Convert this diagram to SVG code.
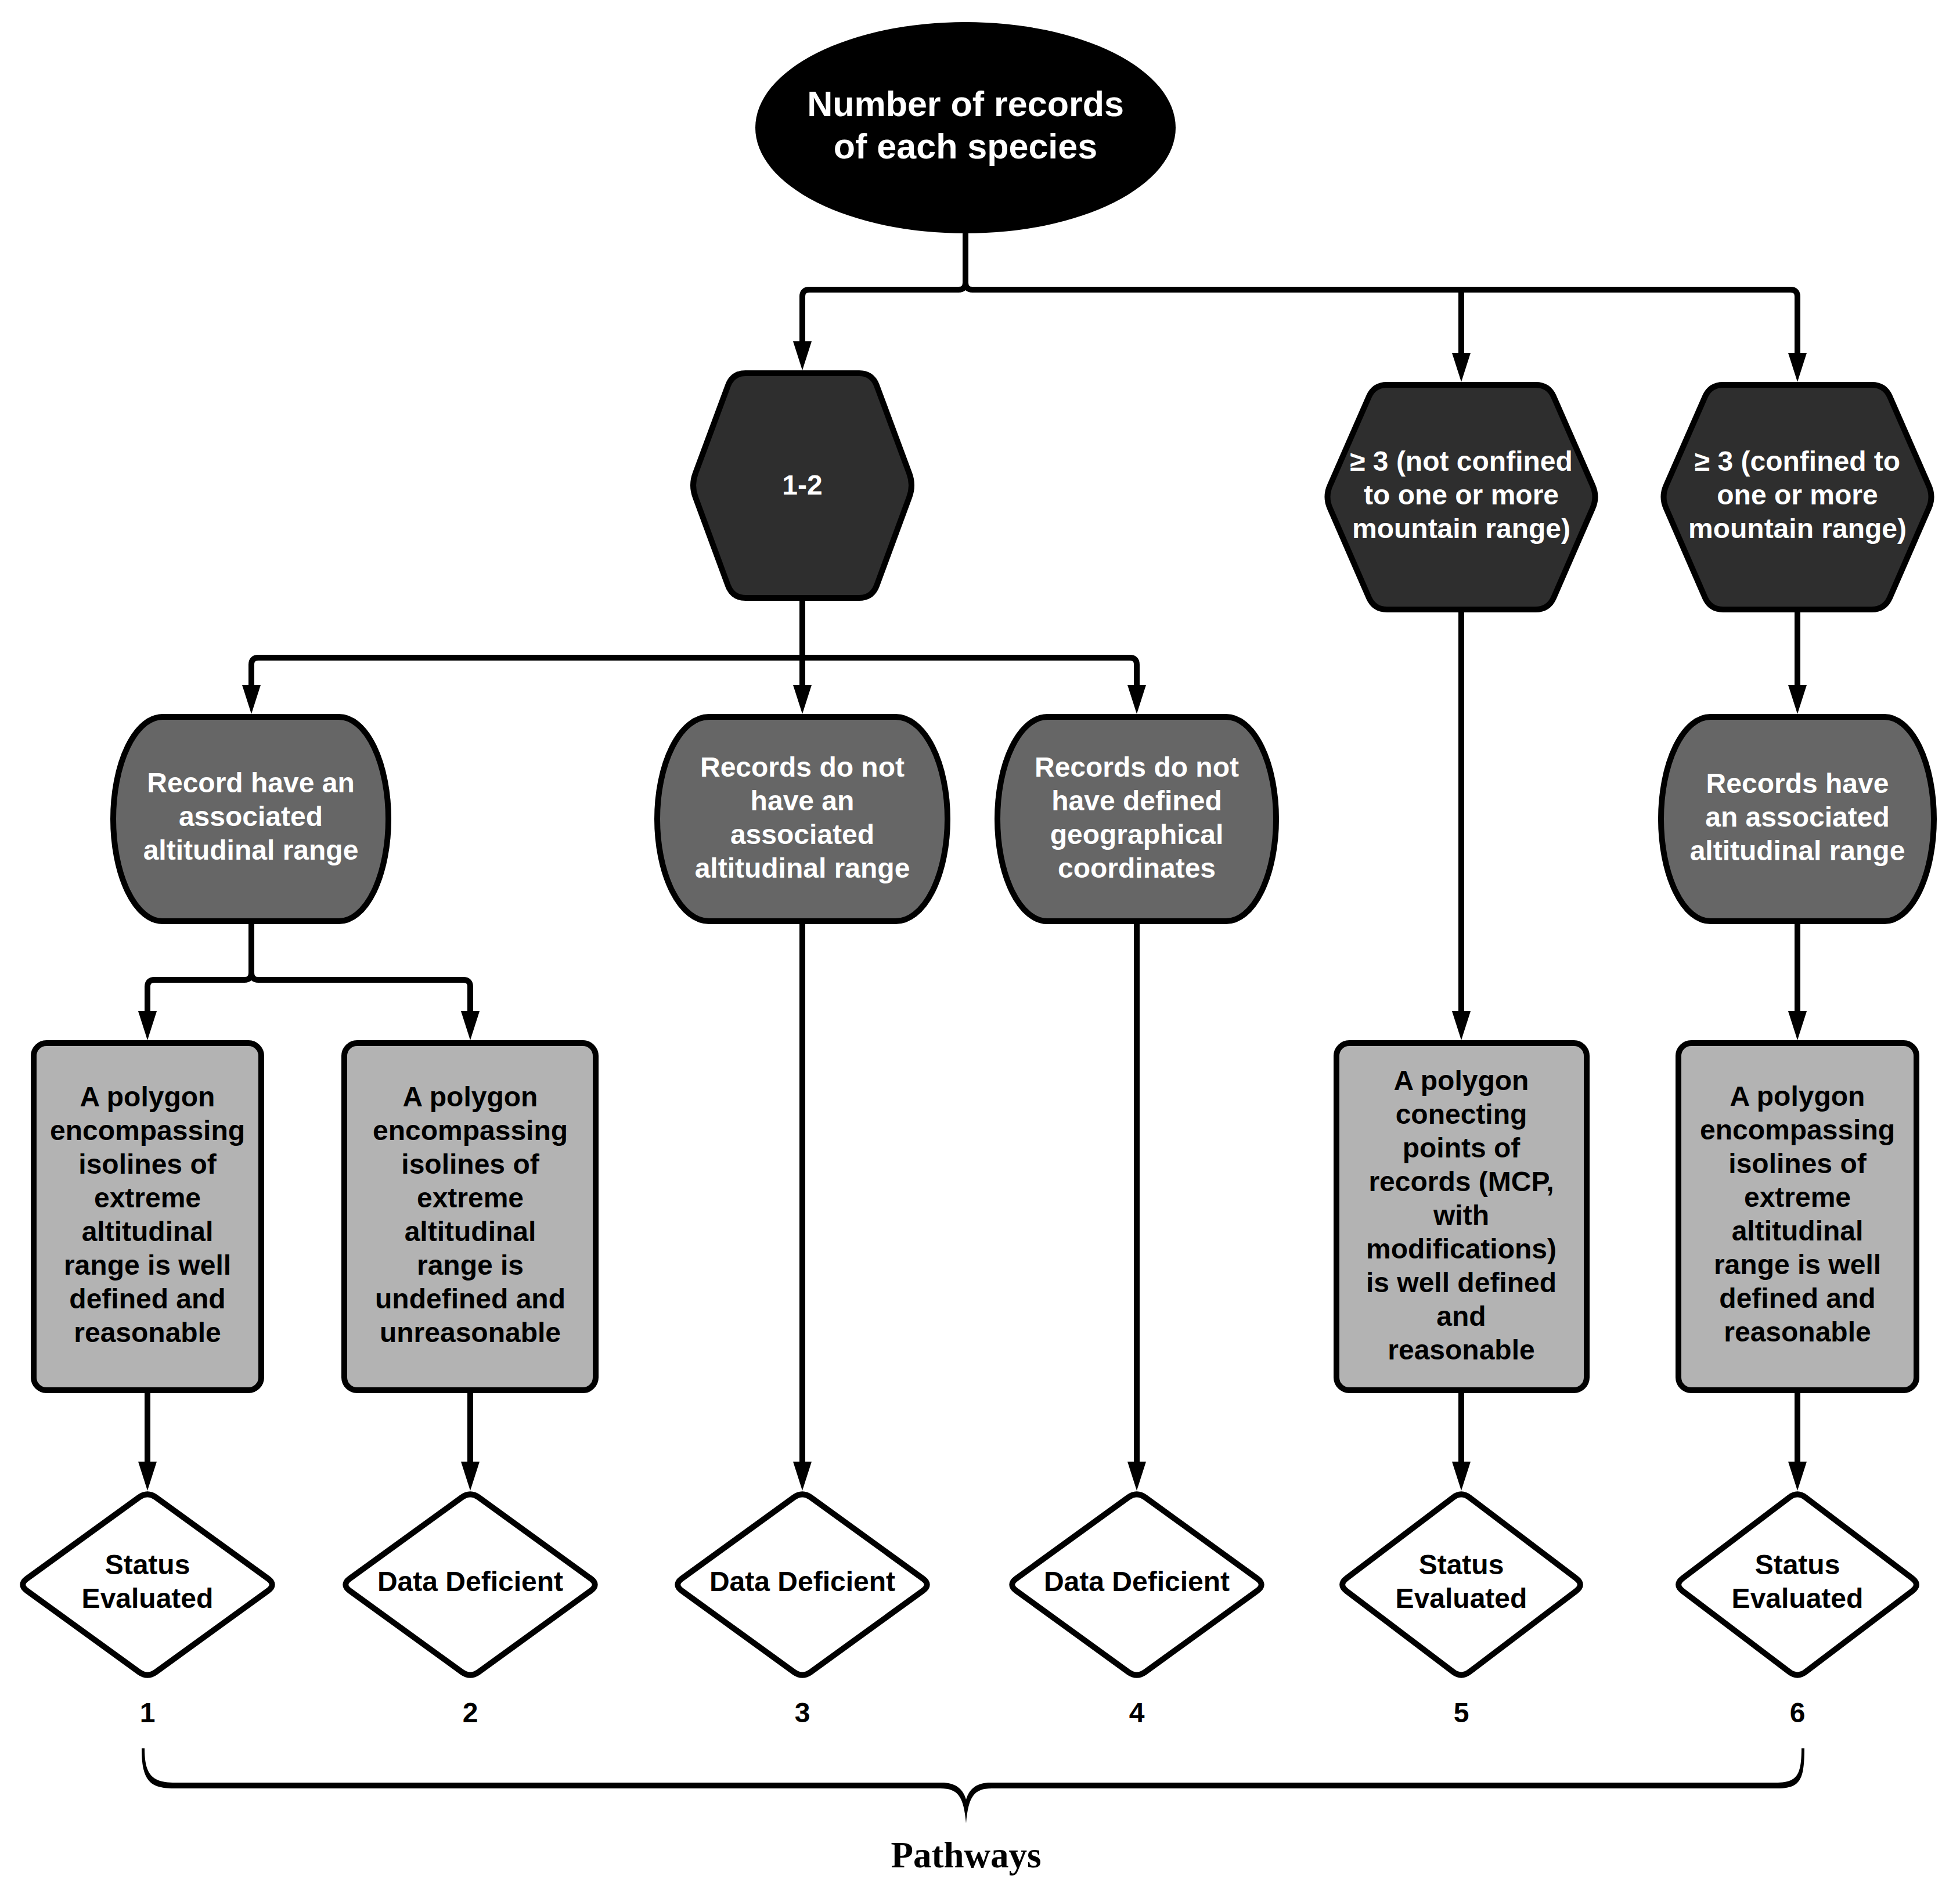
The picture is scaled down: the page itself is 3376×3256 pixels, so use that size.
<svg xmlns="http://www.w3.org/2000/svg" width="3376" height="3256" viewBox="0 0 3376 3256">
<defs>
<style>
.t{font-family:"Liberation Sans",Arial,sans-serif;font-weight:bold;font-size:48px;text-anchor:middle}
.w{fill:#ffffff}
.k{fill:#000000}
.hex{fill:#2e2e2e;stroke:#000;stroke-width:10;stroke-linejoin:round}
.bar{fill:#666666;stroke:#000;stroke-width:10;stroke-linejoin:round}
.box{fill:#b3b3b3;stroke:#000;stroke-width:10}
.dia{fill:#ffffff;stroke:#000;stroke-width:10;stroke-linejoin:round}
.c{fill:none;stroke:#000;stroke-width:10}
.ca{fill:none;stroke:#000;stroke-width:10;marker-end:url(#ah)}
</style>
<marker id="ah" markerUnits="userSpaceOnUse" viewBox="0 0 50 32" markerWidth="50" markerHeight="32" refX="10" refY="16" orient="auto">
<path d="M0,0 L50,16 L0,32 Z" fill="#000"/>
</marker>
<path id="dA" d="M14.6,-150.4 L207.4,-10.6 Q222,0 207.4,10.6 L14.6,150.4 Q0,161 -14.6,150.4 L-207.4,10.6 Q-222,0 -207.4,-10.6 L-14.6,-150.4 Q0,-161 14.6,-150.4 Z"/>
<path id="dB" d="M14.3,-150.1 L197.7,-10.9 Q212,0 197.7,10.9 L14.3,150.1 Q0,161 -14.3,150.1 L-197.7,10.9 Q-212,0 -197.7,-10.9 L-14.3,-150.1 Q0,-161 14.3,-150.1 Z"/>
</defs>
<rect width="3376" height="3256" fill="#ffffff"/>

<g id="connectors">
<path class="c" d="M1663,402 V487"/>
<path class="ca" d="M1663,487 Q1663,499 1651,499 H1394 Q1382,499 1382,511 V598"/>
<path class="ca" d="M1663,487 Q1663,499 1675,499 H3084 Q3096,499 3096,511 V618"/>
<path class="ca" d="M2517,499 V618"/>
<path class="ca" d="M1382,1035 V1190"/>
<path class="ca" d="M1382,1133 H445 Q433,1133 433,1145 V1190"/>
<path class="ca" d="M1382,1133 H1946 Q1958,1133 1958,1145 V1190"/>
<path class="ca" d="M433,1592 V1676 Q433,1688 421,1688 H266 Q254,1688 254,1700 V1752"/>
<path class="ca" d="M433,1676 Q433,1688 445,1688 H798 Q810,1688 810,1700 V1752"/>
<path class="ca" d="M1382,1592 V2528"/>
<path class="ca" d="M1958,1592 V2528"/>
<path class="ca" d="M2517,1055 V1752"/>
<path class="ca" d="M3096,1055 V1190"/>
<path class="ca" d="M3096,1592 V1752"/>
<path class="ca" d="M254,2400 V2528"/>
<path class="ca" d="M810,2400 V2528"/>
<path class="ca" d="M2517,2400 V2528"/>
<path class="ca" d="M3096,2400 V2528"/>
</g>

<g id="root">
<ellipse cx="1663" cy="220" rx="362" ry="182" fill="#000"/>
<text class="t w" style="font-size:61px"><tspan x="1663" y="200">Number of records</tspan><tspan x="1663" y="273">of each species</tspan></text>
</g>

<g id="hex-1-2">
<path class="hex" d="M1284,643 H1480 Q1502,643 1510,664 L1566,815 Q1574,836 1566,857 L1510,1009 Q1502,1030 1480,1030 H1284 Q1262,1030 1254,1009 L1198,857 Q1190,836 1198,815 L1254,664 Q1262,643 1284,643 Z"/>
<text class="t w" x="1382" y="852">1-2</text>
</g>

<g id="hex-ge3-not-confined">
<path class="hex" d="M2389,663 H2645 Q2667,663 2676,683 L2743,836 Q2752,856 2743,876 L2676,1030 Q2667,1050 2645,1050 H2389 Q2367,1050 2358,1030 L2291,876 Q2282,856 2291,836 L2358,683 Q2367,663 2389,663 Z"/>
<text class="t w"><tspan x="2517" y="811">≥ 3 (not confined</tspan><tspan x="2517" y="869">to one or more</tspan><tspan x="2517" y="927">mountain range)</tspan></text>
</g>

<g id="hex-ge3-confined">
<path class="hex" d="M2968,663 H3224 Q3246,663 3255,683 L3322,836 Q3331,856 3322,876 L3255,1030 Q3246,1050 3224,1050 H2968 Q2946,1050 2937,1030 L2870,876 Q2861,856 2870,836 L2937,683 Q2946,663 2968,663 Z"/>
<text class="t w"><tspan x="3096" y="811">≥ 3 (confined to</tspan><tspan x="3096" y="869">one or more</tspan><tspan x="3096" y="927">mountain range)</tspan></text>
</g>

<g id="node-record-have">
<path class="bar" d="M280,1235 H584 A85,176 0 0 1 584,1587 H280 A85,176 0 0 1 280,1235 Z"/>
<text class="t w"><tspan x="432" y="1365">Record have an</tspan><tspan x="432" y="1423">associated</tspan><tspan x="432" y="1481">altitudinal range</tspan></text>
</g>

<g id="node-no-altitude">
<path class="bar" d="M1221,1235 H1543 A89,176 0 0 1 1543,1587 H1221 A89,176 0 0 1 1221,1235 Z"/>
<text class="t w"><tspan x="1382" y="1338">Records do not</tspan><tspan x="1382" y="1396">have an</tspan><tspan x="1382" y="1454">associated</tspan><tspan x="1382" y="1512">altitudinal range</tspan></text>
</g>

<g id="node-no-coordinates">
<path class="bar" d="M1804,1235 H2112 A86,176 0 0 1 2112,1587 H1804 A86,176 0 0 1 1804,1235 Z"/>
<text class="t w"><tspan x="1958" y="1338">Records do not</tspan><tspan x="1958" y="1396">have defined</tspan><tspan x="1958" y="1454">geographical</tspan><tspan x="1958" y="1512">coordinates</tspan></text>
</g>

<g id="node-records-have">
<path class="bar" d="M2946,1235 H3246 A85,176 0 0 1 3246,1587 H2946 A85,176 0 0 1 2946,1235 Z"/>
<text class="t w"><tspan x="3096" y="1366">Records have</tspan><tspan x="3096" y="1424">an associated</tspan><tspan x="3096" y="1482">altitudinal range</tspan></text>
</g>

<g id="box-1">
<rect class="box" x="58" y="1797" width="392" height="598" rx="22"/>
<text class="t k"><tspan x="254" y="1906">A polygon</tspan><tspan x="254" y="1964">encompassing</tspan><tspan x="254" y="2022">isolines of</tspan><tspan x="254" y="2080">extreme</tspan><tspan x="254" y="2138">altitudinal</tspan><tspan x="254" y="2196">range is well</tspan><tspan x="254" y="2254">defined and</tspan><tspan x="254" y="2312">reasonable</tspan></text>
</g>

<g id="box-2">
<rect class="box" x="593" y="1797" width="433" height="598" rx="22"/>
<text class="t k"><tspan x="810" y="1906">A polygon</tspan><tspan x="810" y="1964">encompassing</tspan><tspan x="810" y="2022">isolines of</tspan><tspan x="810" y="2080">extreme</tspan><tspan x="810" y="2138">altitudinal</tspan><tspan x="810" y="2196">range is</tspan><tspan x="810" y="2254">undefined and</tspan><tspan x="810" y="2312">unreasonable</tspan></text>
</g>

<g id="box-5">
<rect class="box" x="2302" y="1797" width="431" height="598" rx="22"/>
<text class="t k"><tspan x="2517" y="1878">A polygon</tspan><tspan x="2517" y="1936">conecting</tspan><tspan x="2517" y="1994">points of</tspan><tspan x="2517" y="2052">records (MCP,</tspan><tspan x="2517" y="2110">with</tspan><tspan x="2517" y="2168">modifications)</tspan><tspan x="2517" y="2226">is well defined</tspan><tspan x="2517" y="2284">and</tspan><tspan x="2517" y="2342">reasonable</tspan></text>
</g>

<g id="box-6">
<rect class="box" x="2891" y="1797" width="410" height="598" rx="22"/>
<text class="t k"><tspan x="3096" y="1905">A polygon</tspan><tspan x="3096" y="1963">encompassing</tspan><tspan x="3096" y="2021">isolines of</tspan><tspan x="3096" y="2079">extreme</tspan><tspan x="3096" y="2137">altitudinal</tspan><tspan x="3096" y="2195">range is well</tspan><tspan x="3096" y="2253">defined and</tspan><tspan x="3096" y="2311">reasonable</tspan></text>
</g>

<g id="diamond-1">
<use href="#dA" class="dia" transform="translate(254,2730)"/>
<text class="t k"><tspan x="254" y="2712">Status</tspan><tspan x="254" y="2770">Evaluated</tspan></text>
</g>
<g id="diamond-2">
<use href="#dA" class="dia" transform="translate(810,2730)"/>
<text class="t k" x="810" y="2741">Data Deficient</text>
</g>
<g id="diamond-3">
<use href="#dA" class="dia" transform="translate(1382,2730)"/>
<text class="t k" x="1382" y="2741">Data Deficient</text>
</g>
<g id="diamond-4">
<use href="#dA" class="dia" transform="translate(1958,2730)"/>
<text class="t k" x="1958" y="2741">Data Deficient</text>
</g>
<g id="diamond-5">
<use href="#dB" class="dia" transform="translate(2517,2730)"/>
<text class="t k"><tspan x="2517" y="2712">Status</tspan><tspan x="2517" y="2770">Evaluated</tspan></text>
</g>
<g id="diamond-6">
<use href="#dB" class="dia" transform="translate(3096,2730)"/>
<text class="t k"><tspan x="3096" y="2712">Status</tspan><tspan x="3096" y="2770">Evaluated</tspan></text>
</g>

<g id="pathway-numbers">
<text class="t k" x="254" y="2967">1</text>
<text class="t k" x="810" y="2967">2</text>
<text class="t k" x="1382" y="2967">3</text>
<text class="t k" x="1958" y="2967">4</text>
<text class="t k" x="2517" y="2967">5</text>
<text class="t k" x="3096" y="2967">6</text>
</g>

<g id="pathways-brace">
<path fill="#000" d="M244,3012 C244,3068 258,3081 300,3081 L1620,3081 C1650,3081 1660,3095 1664,3141 C1668,3095 1678,3081 1708,3081 L3060,3081 C3100,3081 3108,3068 3108,3012 L3103,3012 C3103,3060 3094,3071 3058,3071 L1706,3071 C1684,3071 1670,3080 1664,3100 C1658,3080 1644,3071 1622,3071 L302,3071 C264,3071 249,3060 249,3012 Z"/>
<text x="1664" y="3217" style="font-family:'Liberation Serif','Times New Roman',serif;font-weight:bold;font-size:63px;text-anchor:middle" fill="#000">Pathways</text>
</g>
</svg>
